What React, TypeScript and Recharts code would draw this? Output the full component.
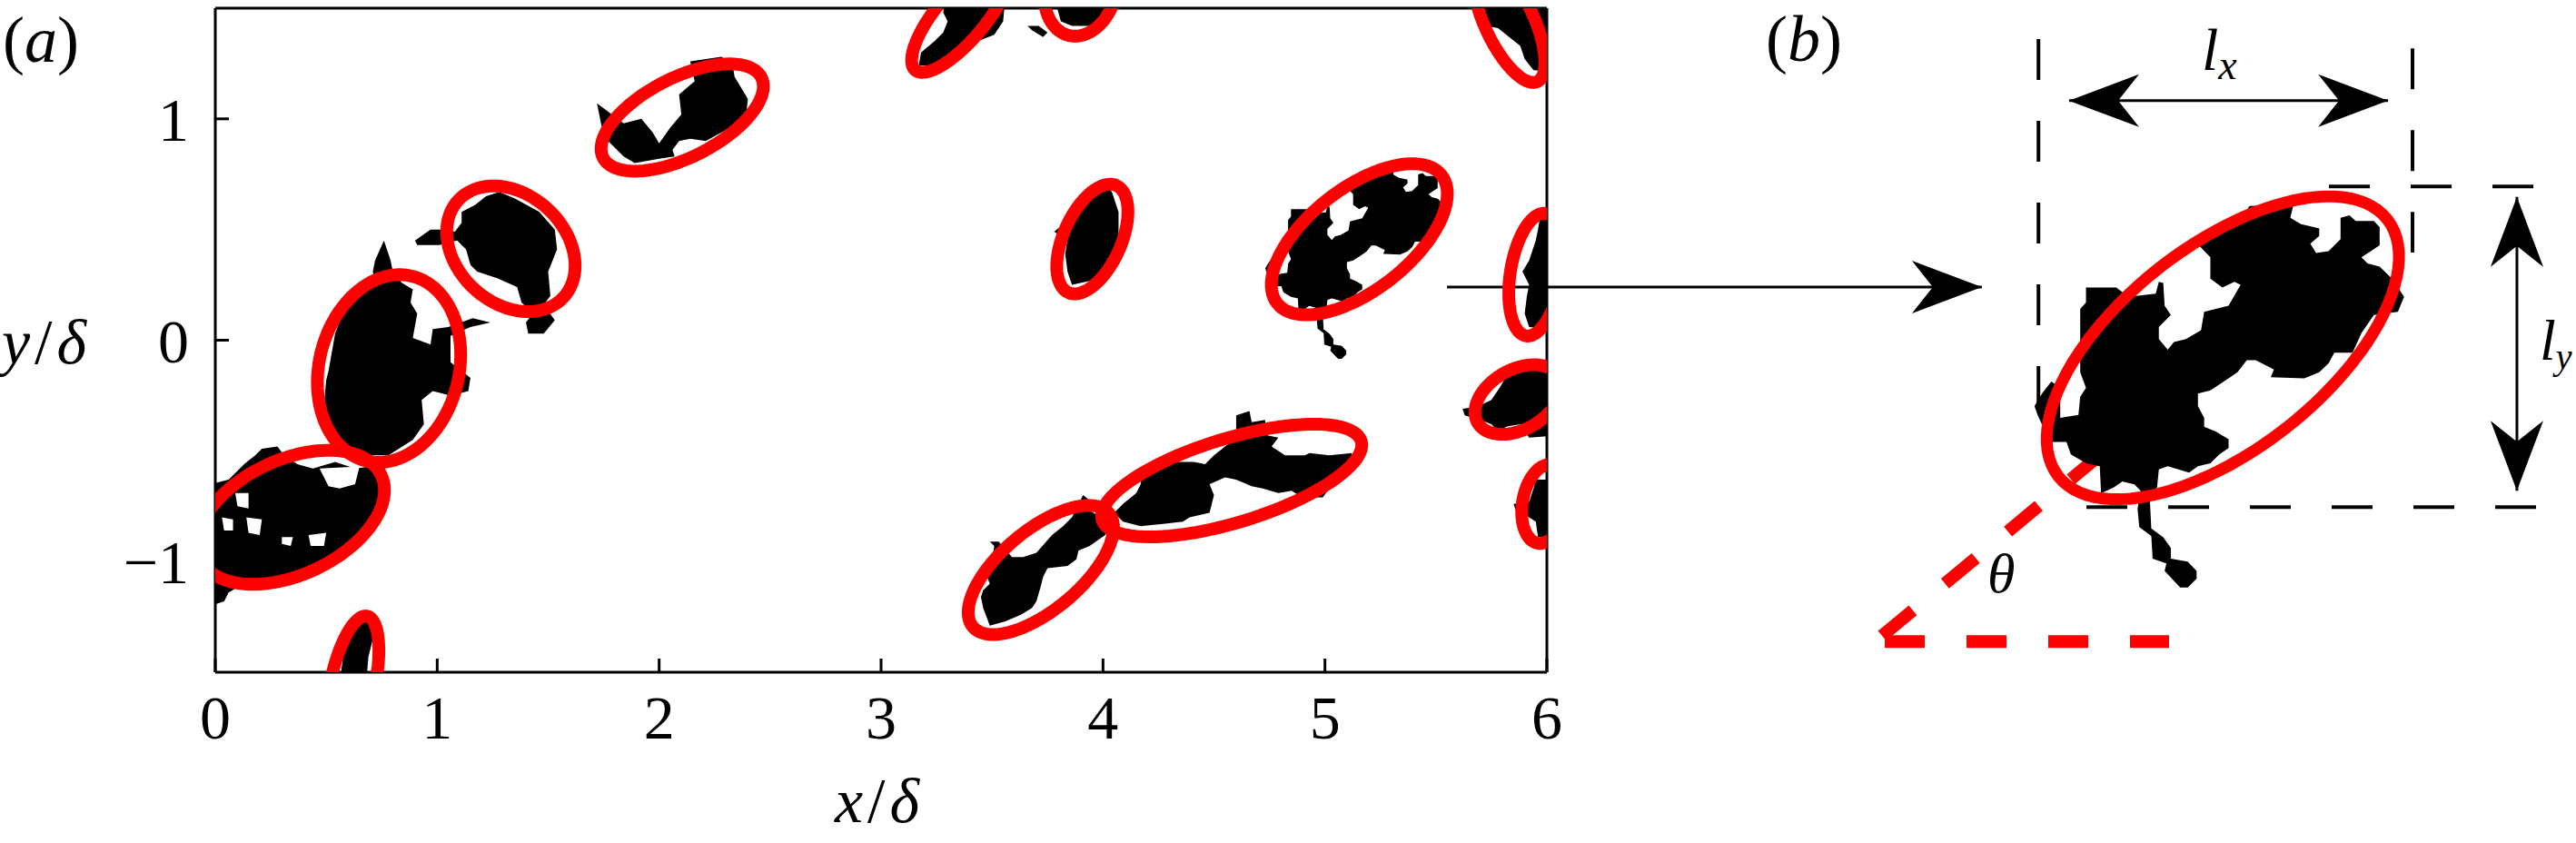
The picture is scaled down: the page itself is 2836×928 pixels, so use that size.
import React from "react";
import { ScatterChart, Scatter, XAxis, YAxis, ReferenceLine } from "recharts";

const SERIF = "'Liberation Serif', 'Times New Roman', serif";
const RED = "#ff0000";

const X_TICKS = [0, 1, 2, 3, 4, 5, 6];
const Y_TICKS = [-1, 0, 1];

// structure outlines (x/δ, y/δ)
const BLOB_1 = [[2.14,1.26],[2.28,1.28],[2.33,1.25],[2.34,1.19],[2.40,1.09],[2.39,1.00],[2.32,0.96],[2.21,0.90],[2.14,0.91],[2.09,0.90],[2.06,0.86],[2.07,0.83],[2.00,0.82],[1.89,0.80],[1.84,0.83],[1.77,0.90],[1.74,0.97],[1.72,1.07],[1.76,1.04],[1.84,0.98],[1.92,1.00],[1.97,0.94],[2.00,0.89],[2.05,0.96],[2.10,1.02],[2.09,1.11],[2.16,1.17],[2.15,1.22]];
const BLOB_2 = [[1.28,0.67],[1.35,0.64],[1.46,0.58],[1.53,0.50],[1.54,0.41],[1.50,0.31],[1.51,0.20],[1.48,0.16],[1.53,0.09],[1.48,0.03],[1.41,0.03],[1.40,0.08],[1.43,0.12],[1.38,0.17],[1.36,0.24],[1.27,0.28],[1.18,0.31],[1.15,0.34],[1.13,0.41],[1.09,0.45],[1.01,0.43],[0.91,0.43],[0.90,0.45],[0.97,0.50],[1.03,0.50],[1.08,0.49],[1.11,0.53],[1.11,0.58],[1.17,0.61],[1.22,0.65]];
const BLOB_3 = [[0.76,0.45],[0.79,0.36],[0.80,0.31],[0.84,0.26],[0.89,0.23],[0.88,0.17],[0.91,0.12],[0.89,0.01],[0.97,-0.02],[0.98,0.05],[1.05,0.06],[1.16,0.10],[1.24,0.08],[1.15,0.06],[1.06,0.02],[1.06,-0.10],[1.15,-0.17],[1.14,-0.23],[1.06,-0.25],[0.98,-0.23],[0.93,-0.27],[0.94,-0.38],[0.89,-0.45],[0.78,-0.52],[0.71,-0.52],[0.63,-0.51],[0.57,-0.47],[0.51,-0.38],[0.49,-0.29],[0.50,-0.18],[0.51,-0.14],[0.54,0.03],[0.58,0.14],[0.65,0.23],[0.72,0.26],[0.71,0.31],[0.72,0.36]];
const BLOB_4 = [[0.21,-0.49],[0.28,-0.48],[0.31,-0.52],[0.37,-0.56],[0.44,-0.58],[0.54,-0.55],[0.63,-0.58],[0.70,-0.57],[0.77,-0.60],[0.78,-0.74],[0.72,-0.80],[0.68,-0.87],[0.61,-0.93],[0.56,-0.99],[0.44,-1.05],[0.30,-1.07],[0.21,-1.09],[0.11,-1.11],[0.06,-1.14],[0.04,-1.18],[-0.02,-1.20],[-0.02,-0.65],[0.06,-0.63],[0.13,-0.56],[0.18,-0.52]];
const BLOB_5 = [[0.65,-1.24],[0.70,-1.27],[0.71,-1.35],[0.69,-1.43],[0.68,-1.55],[0.56,-1.55],[0.58,-1.40],[0.62,-1.32]];
const BLOB_6 = [[3.29,1.55],[3.56,1.55],[3.55,1.44],[3.51,1.38],[3.46,1.36],[3.41,1.34],[3.37,1.31],[3.30,1.27],[3.22,1.24],[3.17,1.24],[3.18,1.30],[3.24,1.35],[3.28,1.39],[3.30,1.44],[3.28,1.48]];
const BLOB_7 = [[3.78,1.55],[4.03,1.55],[4.01,1.45],[3.94,1.42],[3.86,1.42],[3.81,1.44]];
const BLOB_7B = [[3.66,1.42],[3.71,1.42],[3.75,1.39],[3.73,1.37],[3.68,1.40]];
const BLOB_8 = [[5.70,1.55],[6.05,1.55],[6.05,1.21],[5.94,1.22],[5.90,1.27],[5.88,1.33],[5.83,1.37],[5.78,1.41],[5.73,1.42],[5.72,1.46]];
const BLOB_9 = [[3.99,0.72],[4.04,0.67],[4.07,0.58],[4.07,0.47],[4.04,0.38],[3.99,0.31],[3.95,0.27],[3.86,0.25],[3.84,0.31],[3.83,0.39],[3.84,0.46],[3.81,0.47],[3.78,0.49],[3.83,0.53],[3.88,0.60],[3.91,0.65]];
// the structure shown enlarged in panel (b)
const BLOB_10 = [[5.099,0.689],[5.127,0.708],[5.195,0.745],[5.215,0.776],[5.314,0.779],[5.307,0.749],[5.331,0.735],[5.372,0.725],[5.372,0.708],[5.352,0.691],[5.365,0.670],[5.393,0.674],[5.420,0.701],[5.420,0.749],[5.440,0.755],[5.454,0.742],[5.495,0.742],[5.508,0.728],[5.508,0.687],[5.488,0.674],[5.467,0.660],[5.481,0.646],[5.508,0.639],[5.536,0.612],[5.563,0.571],[5.549,0.537],[5.495,0.530],[5.467,0.489],[5.447,0.445],[5.406,0.445],[5.393,0.421],[5.372,0.401],[5.338,0.387],[5.263,0.390],[5.270,0.407],[5.229,0.428],[5.209,0.428],[5.188,0.401],[5.168,0.387],[5.127,0.360],[5.099,0.353],[5.099,0.325],[5.113,0.298],[5.113,0.278],[5.140,0.267],[5.168,0.250],[5.168,0.230],[5.147,0.216],[5.127,0.196],[5.099,0.189],[5.079,0.175],[5.031,0.189],[5.011,0.182],[5.007,0.141],[4.990,0.128],[4.994,0.049],[5.021,0.029],[5.038,0.005],[5.038,-0.019],[5.076,-0.026],[5.096,-0.047],[5.096,-0.064],[5.076,-0.084],[5.059,-0.084],[5.024,-0.047],[5.028,-0.030],[4.997,-0.019],[4.994,0.032],[4.967,0.052],[4.963,0.093],[4.970,0.134],[4.956,0.148],[4.929,0.155],[4.909,0.141],[4.881,0.128],[4.878,0.189],[4.847,0.196],[4.813,0.216],[4.803,0.244],[4.766,0.244],[4.738,0.305],[4.731,0.325],[4.748,0.353],[4.769,0.380],[4.789,0.366],[4.789,0.298],[4.830,0.305],[4.834,0.346],[4.847,0.366],[4.834,0.401],[4.834,0.544],[4.847,0.558],[4.847,0.592],[4.915,0.592],[4.943,0.571],[5.004,0.578],[5.011,0.605],[5.021,0.602],[5.024,0.551],[5.038,0.530],[5.011,0.503],[5.011,0.476],[5.031,0.452],[5.045,0.469],[5.072,0.476],[5.106,0.496],[5.113,0.537],[5.168,0.551],[5.195,0.598],[5.181,0.605],[5.154,0.592],[5.127,0.612],[5.127,0.660]];
const BLOB_11 = [[5.97,0.56],[6.05,0.56],[6.05,0.05],[5.92,0.06],[5.90,0.12],[5.91,0.20],[5.92,0.25],[5.89,0.31],[5.92,0.36],[5.95,0.45],[5.96,0.50]];
const BLOB_12 = [[5.83,-0.14],[5.92,-0.12],[6.05,-0.13],[6.05,-0.43],[5.92,-0.44],[5.88,-0.38],[5.82,-0.39],[5.78,-0.41],[5.75,-0.38],[5.70,-0.36],[5.63,-0.34],[5.62,-0.31],[5.69,-0.30],[5.75,-0.27],[5.79,-0.21]];
const BLOB_13 = [[5.95,-0.63],[6.05,-0.63],[6.05,-0.89],[5.96,-0.89],[5.95,-0.82],[5.92,-0.80],[5.86,-0.77],[5.85,-0.74],[5.92,-0.73],[5.94,-0.67]];
const BLOB_14 = [[4.60,-0.34],[4.66,-0.32],[4.67,-0.37],[4.73,-0.36],[4.74,-0.43],[4.79,-0.44],[4.76,-0.48],[4.82,-0.52],[4.91,-0.52],[4.93,-0.51],[5.02,-0.52],[5.12,-0.51],[5.13,-0.54],[5.10,-0.58],[5.07,-0.62],[5.02,-0.67],[4.99,-0.71],[4.93,-0.71],[4.88,-0.70],[4.85,-0.68],[4.79,-0.69],[4.72,-0.67],[4.67,-0.66],[4.60,-0.63],[4.55,-0.62],[4.48,-0.65],[4.50,-0.70],[4.48,-0.78],[4.39,-0.80],[4.36,-0.82],[4.27,-0.83],[4.17,-0.84],[4.09,-0.82],[4.05,-0.78],[4.09,-0.74],[4.15,-0.69],[4.17,-0.65],[4.17,-0.60],[4.24,-0.58],[4.34,-0.55],[4.41,-0.55],[4.46,-0.56],[4.50,-0.52],[4.55,-0.48],[4.60,-0.44],[4.60,-0.40]];
const BLOB_15 = [[3.91,-0.70],[3.95,-0.73],[3.94,-0.77],[3.99,-0.80],[4.03,-0.85],[4.01,-0.88],[3.94,-0.93],[3.89,-0.95],[3.88,-0.99],[3.84,-1.02],[3.75,-1.03],[3.73,-1.07],[3.72,-1.11],[3.70,-1.18],[3.68,-1.21],[3.63,-1.24],[3.56,-1.27],[3.49,-1.29],[3.46,-1.21],[3.45,-1.16],[3.46,-1.13],[3.49,-1.10],[3.47,-1.05],[3.50,-0.99],[3.51,-0.93],[3.49,-0.91],[3.53,-0.91],[3.59,-0.98],[3.64,-0.98],[3.70,-0.96],[3.77,-0.88],[3.82,-0.84],[3.86,-0.80],[3.88,-0.76]];

// white gaps inside the lower-left structure
const HOLES_4 = [
  [[0.09,-0.69],[0.15,-0.69],[0.15,-0.76],[0.10,-0.75]],
  [[0.14,-0.80],[0.21,-0.81],[0.20,-0.88],[0.15,-0.87]],
  [[0.03,-0.80],[0.08,-0.81],[0.08,-0.86],[0.04,-0.86]],
  [[0.42,-0.88],[0.50,-0.87],[0.49,-0.93],[0.43,-0.93]],
  [[0.30,-0.89],[0.35,-0.89],[0.34,-0.93],[0.30,-0.92]],
  [[0.47,-0.58],[0.65,-0.57],[0.63,-0.65],[0.56,-0.67],[0.51,-0.66]],
];

// fitted ellipses: centre x, centre y, semi-major, semi-minor, angle (deg)
const ELLIPSES = [
  [2.104, 1.006, 0.40, 0.18, 27],
  [1.332, 0.413, 0.323, 0.245, -43],
  [0.783, -0.128, 0.43, 0.315, 76],
  [0.34, -0.80, 0.45, 0.26, 25],
  [0.62, -1.55, 0.31, 0.10, 78],
  [3.36, 1.465, 0.32, 0.11, 50],
  [3.90, 1.59, 0.22, 0.16, 75],
  [5.83, 1.44, 0.30, 0.11, -65],
  [3.952, 0.457, 0.265, 0.13, 66],
  [5.155, 0.456, 0.47, 0.23, 38],
  [5.95, 0.296, 0.28, 0.115, 81],
  [5.87, -0.268, 0.21, 0.135, 30],
  [5.99, -0.74, 0.18, 0.10, 80],
  [4.58, -0.634, 0.61, 0.19, 17],
  [3.72, -1.038, 0.40, 0.18, 40],
];
const DETAIL_ELLIPSE = ELLIPSES[9];

// panel (b) annotation segments, same units
const CONNECTOR = [[5.55, 0.24], [7.96, 0.24]];
const BOX_LINES = [
  [[4.74, 1.152], [4.74, 0.315]],
  [[5.582, 1.131], [5.582, 0.671]],
  [[5.394, 0.82], [5.862, 0.82]],
  [[4.848, 0.097], [5.86, 0.097]],
];
const LX_ARROW = [[4.809, 1.013], [5.527, 1.013]];
const LY_ARROW = [[5.817, 0.796], [5.817, 0.134]];
const MAJOR_AXIS = [[4.388, -0.193], [5.478, 0.712]];
const HORIZONTAL = [[4.394, -0.206], [5.034, -0.206]];

const BLOBS = [BLOB_1, BLOB_2, BLOB_3, BLOB_4, BLOB_5, BLOB_6, BLOB_7, BLOB_7B, BLOB_8, BLOB_9, BLOB_10, BLOB_11, BLOB_12, BLOB_13, BLOB_14, BLOB_15];

const toPoints = (pts: number[][]) => pts.map(([x, y]) => ({ x, y }));

function ellipseOutline([cx, cy, a, b, deg]: number[]) {
  const r = (deg * Math.PI) / 180;
  const out = [];
  for (let i = 0; i < 96; i++) {
    const t = (i / 96) * 2 * Math.PI;
    out.push({
      x: cx + a * Math.cos(t) * Math.cos(r) - b * Math.sin(t) * Math.sin(r),
      y: cy + a * Math.cos(t) * Math.sin(r) + b * Math.sin(t) * Math.cos(r),
    });
  }
  return out;
}

const noDot = () => <g />;

function shapeSeries(key: string, data: { x: number; y: number }[], line: any) {
  return (
    <Scatter
      key={key}
      data={data}
      shape={noDot}
      line={line}
      lineJointType="linearClosed"
      isAnimationActive={false}
      legendType="none"
    />
  );
}

const arrowShape = (both: boolean) => (p: any) => (
  <line
    x1={p.x1}
    y1={p.y1}
    x2={p.x2}
    y2={p.y2}
    stroke="#000"
    strokeWidth={3}
    markerEnd="url(#stealth)"
    markerStart={both ? "url(#stealth)" : undefined}
  />
);

const AXIS = { stroke: "#000", strokeWidth: 3 };
const TICK = { fontSize: 68, fontFamily: SERIF, fill: "#000" };
const fmt = (v: number) => (v < 0 ? `\u2212${-v}` : `${v}`);
const BLACK = { fill: "#000", stroke: "none" };

export default function App() {
  return (
    <div style={{ position: "absolute", left: 0, top: 0, width: 2836, height: 928, background: "#fff", overflow: "hidden" }}>
      <svg width={0} height={0} style={{ position: "absolute" }}>
        <defs>
          <marker
            id="stealth"
            viewBox="-80 -32 84 64"
            refX={0}
            refY={0}
            markerWidth={84}
            markerHeight={64}
            markerUnits="userSpaceOnUse"
            orient="auto-start-reverse"
          >
            <path d="M0,0 L-77,-29 L-54,0 L-77,29 Z" fill="#000" />
          </marker>
        </defs>
      </svg>

      <div style={{ position: "absolute", left: 0, top: 0 }}>
        <ScatterChart width={2836} height={928} margin={{ top: 8, right: 1132, bottom: 0, left: 0 }}>
          <XAxis
            type="number"
            dataKey="x"
            domain={[0, 6]}
            ticks={X_TICKS}
            interval={0}
            allowDataOverflow
            height={188}
            tickSize={-15}
            tickMargin={40}
            axisLine={AXIS}
            tickLine={AXIS}
            tick={TICK}
            tickFormatter={fmt}
          />
          <XAxis
            xAxisId="top"
            orientation="top"
            type="number"
            dataKey="x"
            domain={[0, 6]}
            ticks={X_TICKS}
            interval={0}
            allowDataOverflow
            height={1}
            tickSize={-15}
            axisLine={AXIS}
            tickLine={AXIS}
            tick={false}
          />
          <YAxis
            type="number"
            dataKey="y"
            domain={[-1.5, 1.5]}
            ticks={Y_TICKS}
            interval={0}
            allowDataOverflow
            width={237}
            tickSize={-15}
            tickMargin={44}
            axisLine={AXIS}
            tickLine={AXIS}
            tick={TICK}
            tickFormatter={fmt}
          />
          <YAxis
            yAxisId="right"
            orientation="right"
            type="number"
            dataKey="y"
            domain={[-1.5, 1.5]}
            ticks={Y_TICKS}
            interval={0}
            allowDataOverflow
            width={1}
            tickSize={-15}
            axisLine={AXIS}
            tickLine={AXIS}
            tick={false}
          />
          {BLOBS.map((b, i) => shapeSeries(`blob${i}`, toPoints(b), BLACK))}
          {HOLES_4.map((h, i) => shapeSeries(`hole${i}`, toPoints(h), { fill: "#fff", stroke: "none" }))}
          {ELLIPSES.map((e, i) =>
            shapeSeries(`ell${i}`, ellipseOutline(e), { fill: "none", stroke: RED, strokeWidth: 14, strokeLinejoin: "round" })
          )}
          <ReferenceLine segment={toPoints(CONNECTOR)} ifOverflow="visible" shape={arrowShape(false)} />
        </ScatterChart>
      </div>

      <div style={{ position: "absolute", left: 1760, top: 0 }}>
        <ScatterChart width={1076} height={928} margin={{ top: 0, right: 0, bottom: 0, left: 0 }}>
          <XAxis type="number" dataKey="x" domain={[3.75, 5.95]} allowDataOverflow hide />
          <YAxis type="number" dataKey="y" domain={[-0.66, 1.24]} allowDataOverflow hide />
          {BOX_LINES.map((s, i) => (
            <ReferenceLine key={`box${i}`} segment={toPoints(s)} ifOverflow="visible" stroke="#000" strokeWidth={4} strokeDasharray="45 45" />
          ))}
          {shapeSeries("detailBlob", toPoints(BLOB_10), BLACK)}
          {shapeSeries("detailEllipse", ellipseOutline(DETAIL_ELLIPSE), { fill: "none", stroke: RED, strokeWidth: 13 })}
          <ReferenceLine segment={toPoints(MAJOR_AXIS)} ifOverflow="visible" stroke={RED} strokeWidth={14} strokeDasharray="44 46" />
          <ReferenceLine segment={toPoints(HORIZONTAL)} ifOverflow="visible" stroke={RED} strokeWidth={14} strokeDasharray="44 46" />
          <ReferenceLine segment={toPoints(LX_ARROW)} ifOverflow="visible" shape={arrowShape(true)} />
          <ReferenceLine segment={toPoints(LY_ARROW)} ifOverflow="visible" shape={arrowShape(true)} />
        </ScatterChart>
      </div>

      <svg width={2836} height={928} style={{ position: "absolute", left: 0, top: 0, pointerEvents: "none" }} fontFamily={SERIF} fill="#000">
        <text x={3} y={68} fontSize={72}>
          (<tspan fontStyle="italic">a</tspan>)
        </text>
        <text x={1944} y={67} fontSize={72}>
          (<tspan fontStyle="italic">b</tspan>)
        </text>
        <text x={2} y={400} fontSize={70}>
          <tspan fontStyle="italic">y</tspan>
          <tspan dx={5}>/</tspan>
          <tspan dx={5} fontStyle="italic">δ</tspan>
        </text>
        <text x={919} y={905} fontSize={70}>
          <tspan fontStyle="italic">x</tspan>
          <tspan dx={5}>/</tspan>
          <tspan dx={5} fontStyle="italic">δ</tspan>
        </text>
        <text x={2424} y={77} fontSize={66} fontStyle="italic">
          l<tspan fontSize={46} dy={10}>x</tspan>
        </text>
        <text x={2796} y={396} fontSize={64} fontStyle="italic">
          l<tspan fontSize={40} dy={10}>y</tspan>
        </text>
        <text x={2188} y={652} fontSize={62} fontStyle="italic">
          θ
        </text>
      </svg>
    </div>
  );
}
